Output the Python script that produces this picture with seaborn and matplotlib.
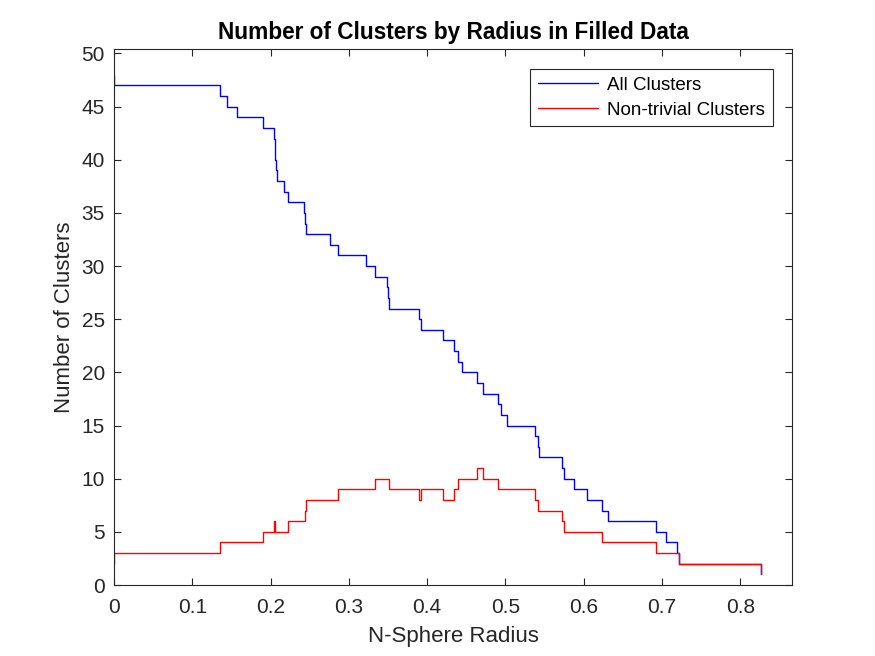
import matplotlib
matplotlib.use("Agg")
import matplotlib.pyplot as plt
from matplotlib import font_manager as fm
import seaborn as sns
import pandas as pd

# Data (stairs / steps-post)
all_radius = [0, 0, 0.1348, 0.1437, 0.1565, 0.1898, 0.2039, 0.2051, 0.2064, 0.2086,
              0.2167, 0.2218, 0.2423, 0.2436, 0.2449, 0.2755, 0.2857, 0.3216, 0.3331,
              0.3485, 0.3497, 0.3510, 0.3894, 0.3920, 0.4201, 0.4342, 0.4393, 0.4444,
              0.4636, 0.4713, 0.4905, 0.4945, 0.5020, 0.5378, 0.5417, 0.5429, 0.5724,
              0.5749, 0.5877, 0.6044, 0.6236, 0.6312, 0.6926, 0.7054, 0.7195, 0.7220,
              0.8265]
all_clusters = [48, 47, 46, 45, 44, 43, 42, 40, 39, 38, 37, 36, 35, 34, 33, 32, 31, 30,
                29, 28, 27, 26, 25, 24, 23, 22, 21, 20, 19, 18, 17, 16, 15, 14, 13, 12,
                11, 10, 9, 8, 7, 6, 5, 4, 3, 2, 1]

nt_radius = [0, 0, 0.1348, 0.1898, 0.2039, 0.2051, 0.2218, 0.2436, 0.2449, 0.2857,
             0.3331, 0.3510, 0.3894, 0.3920, 0.4201, 0.4342, 0.4393, 0.4636, 0.4713,
             0.4905, 0.5378, 0.5417, 0.5724, 0.5749, 0.6236, 0.6926, 0.7220, 0.8265]
nt_clusters = [2, 3, 4, 5, 6, 5, 6, 7, 8, 9, 10, 9, 8, 9, 8, 9, 10, 11, 10, 9, 8, 7, 6,
               5, 4, 3, 2, 1]

series_labels = ["All Clusters", "Non-trivial Clusters"]
x_ticks = [0, 0.1, 0.2, 0.3, 0.4, 0.5, 0.6, 0.7, 0.8]
x_tick_labels = ["0", "0.1", "0.2", "0.3", "0.4", "0.5", "0.6", "0.7", "0.8"]
y_ticks = [0, 5, 10, 15, 20, 25, 30, 35, 40, 45, 50]

sns.set_theme(style="white")
plt.rcParams["font.family"] = ["Liberation Sans", "DejaVu Sans"]

# find a regular-width Liberation Sans Bold file for the title
bold_fp = None
for f in fm.fontManager.ttflist:
    if f.name == "Liberation Sans" and f.weight in (700, "bold") and "Narrow" not in f.fname \
            and f.style == "normal":
        bold_fp = fm.FontProperties(fname=f.fname)
        break
if bold_fp is None:
    bold_fp = fm.FontProperties(family="Liberation Sans", weight="bold")
bold_fp.set_size(16.3)

fig = plt.figure(figsize=(8.75, 6.56), dpi=100)
ax = fig.add_axes([0.1303, 0.1082, 0.7752, 0.8168])

df_all = pd.DataFrame({"radius": all_radius, "count": all_clusters})
df_nt = pd.DataFrame({"radius": nt_radius, "count": nt_clusters})

sns.lineplot(data=df_all, x="radius", y="count", ax=ax, estimator=None, sort=False,
             drawstyle="steps-post", color=(0, 0, 1), linewidth=1.0, label=series_labels[0])
sns.lineplot(data=df_nt, x="radius", y="count", ax=ax, estimator=None, sort=False,
             drawstyle="steps-post", color=(1, 0, 0), linewidth=1.0, label=series_labels[1])

ax.set_xlim(0, 0.8665)
ax.set_ylim(0, 50.4)
ax.set_xticks(x_ticks)
ax.set_xticklabels(x_tick_labels)
ax.set_yticks(y_ticks)

dark = "#262626"
for s in ax.spines.values():
    s.set_visible(True)
    s.set_color(dark)
    s.set_linewidth(0.8)
ax.tick_params(axis="both", which="both", direction="in", length=4.8, width=0.8,
               colors=dark, labelsize=15, top=True, right=True, bottom=True, left=True,
               labelcolor=dark)
ax.tick_params(axis="x", pad=9.5)
ax.tick_params(axis="y", pad=6.5)

ax.set_xlabel("N-Sphere Radius", fontsize=16, color=dark, labelpad=6)
ax.set_ylabel("Number of Clusters", fontsize=16, color=dark, labelpad=4.5)
ax.set_title("Number of Clusters by Radius in Filled Data", fontproperties=bold_fp,
             color="black", pad=7)

leg = ax.legend(loc="upper right", fontsize=13.5, frameon=True, fancybox=False,
                framealpha=1, edgecolor=dark, borderaxespad=1.05, handlelength=3.2,
                handletextpad=0.5, borderpad=0.4, labelspacing=0.42)
leg.get_frame().set_linewidth(0.8)
for t in leg.get_texts():
    t.set_color("black")

fig.savefig("out.png", dpi=100)
